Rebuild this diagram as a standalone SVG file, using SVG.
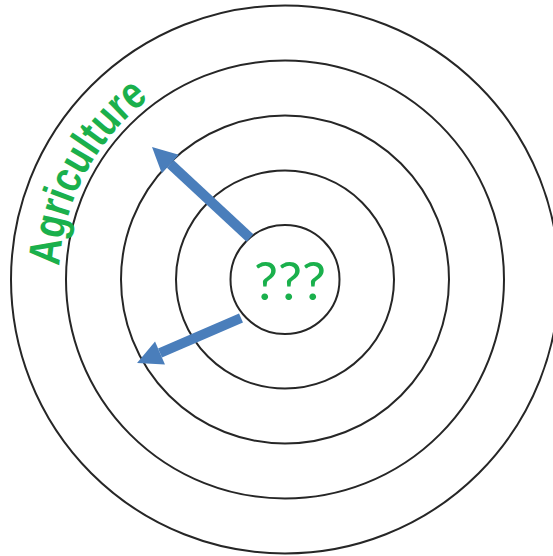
<svg xmlns="http://www.w3.org/2000/svg" width="553" height="556" viewBox="0 0 553 556">
<style>
.ring{fill:none;stroke:#262626;stroke-width:2}
.arrow{stroke:#4A7EBB;stroke-width:10;stroke-linecap:butt;fill:none}
.lbl{fill:#1AB04C;font-family:Lato,"Liberation Sans",Arial,sans-serif}
.big{fill:#1AB04C;font-family:"Liberation Sans",Arial,sans-serif;font-weight:bold}
</style>
<defs>
<marker id="head" markerUnits="userSpaceOnUse" markerWidth="25" markerHeight="25" refX="0" refY="12.5" orient="auto" overflow="visible">
<path d="M0,0 L25,12.5 L0,25 Z" fill="#4A7EBB"/>
</marker>
<path id="arc" d="M59.9,299.3 A226,226 0 0 1 245.8,57"/>
</defs>
<rect width="553" height="556" fill="#fff"/>
<g id="ring5"><circle class="ring" cx="285" cy="279.5" r="274"/></g>
<g id="ring4"><circle class="ring" cx="285" cy="279.5" r="219"/></g>
<g id="ring3"><circle class="ring" cx="285" cy="279.5" r="164"/></g>
<g id="ring2"><circle class="ring" cx="285" cy="279.5" r="109"/></g>
<g id="center"><circle class="ring" cx="285" cy="279.5" r="54.5"/>
<text class="lbl" x="254" y="300" font-size="52" textLength="72" lengthAdjust="spacingAndGlyphs">???</text></g>
<g id="label"><text class="big" font-size="45"><textPath href="#arc" startOffset="33" textLength="196" lengthAdjust="spacingAndGlyphs">Agriculture</textPath></text></g>
<g id="connectors">
<line class="arrow" x1="250" y1="238" x2="170.3" y2="164" marker-end="url(#head)"/>
<line class="arrow" x1="241" y1="318" x2="160" y2="353" marker-end="url(#head)"/>
</g>
</svg>
